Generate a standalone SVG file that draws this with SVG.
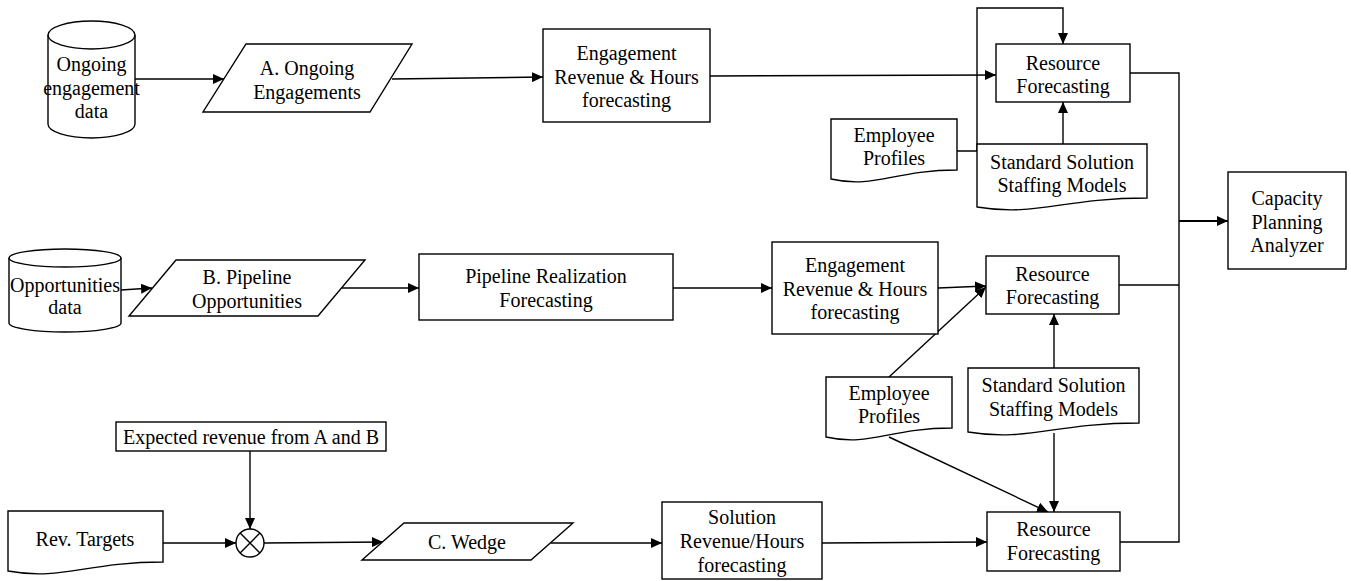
<svg xmlns="http://www.w3.org/2000/svg" width="1351" height="581" viewBox="0 0 1351 581">
<style>
.s{fill:#fff;stroke:#000;stroke-width:1.4}
.t{font-family:"Liberation Serif","Times New Roman",serif;font-size:20px;fill:#000;text-anchor:middle}
.c{fill:none;stroke:#000;stroke-width:1.4}
.a{marker-end:url(#ah)}
</style>
<defs>
<marker id="ah" markerUnits="userSpaceOnUse" markerWidth="11" markerHeight="10" refX="11" refY="5" orient="auto"><path d="M0,0 L11,5 L0,10 Z" fill="#000"/></marker>
</defs>
<rect width="1351" height="581" fill="#fff"/>
<g id="connectors">
<path class="c a" d="M135,79 L224,79"/>
<path class="c a" d="M392,79 L543,77"/>
<path class="c a" d="M710,76 L996,75"/>
<path class="c a" d="M957,151 H977 V8 H1063 V44"/>
<path class="c a" d="M1063,144 V102"/>
<path class="c" d="M1130,73 H1179 V542 H1120"/>
<path class="c" d="M1119,285 H1179"/>
<path class="c a" d="M1179,221 H1228" style="stroke-width:2"/>
<path class="c a" d="M121,290 L152,288"/>
<path class="c a" d="M342,288 L419,288"/>
<path class="c a" d="M673,288 L772,288"/>
<path class="c a" d="M938,288 L986,286"/>
<path class="c a" d="M889,377 L986,287"/>
<path class="c a" d="M1054,368 V314"/>
<path class="c a" d="M1054,433 V512"/>
<path class="c a" d="M889,437 L1048,512"/>
<path class="c a" d="M250,451 V529"/>
<path class="c a" d="M163,543 H236"/>
<path class="c a" d="M264,543 L383,542"/>
<path class="c a" d="M551,543 H662"/>
<path class="c a" d="M822,543 L987,542"/>
</g>
<g id="ongoing-data">
<path class="s" d="M48,35 A43.5,14 0 0,1 135,35 V124 A43.5,14 0 0,1 48,124 Z"/>
<path class="c" d="M48,35 A43.5,14 0 0,0 135,35"/>
<text class="t" x="91.5" y="71">Ongoing</text>
<text class="t" x="91.5" y="94.5">engagement</text>
<text class="t" x="91.5" y="118">data</text>
</g>
<g id="ongoing-engagements">
<path class="s" d="M246,44 H412 L370,112 H203 Z"/>
<text class="t" x="307" y="75">A. Ongoing</text>
<text class="t" x="307" y="98.5">Engagements</text>
</g>
<g id="eng-forecast-1">
<rect class="s" x="543" y="29" width="167" height="93"/>
<text class="t" x="626.5" y="60">Engagement</text>
<text class="t" x="626.5" y="83.5">Revenue &amp; Hours</text>
<text class="t" x="626.5" y="107">forecasting</text>
</g>
<g id="resource-1">
<rect class="s" x="996" y="44" width="134" height="58"/>
<text class="t" x="1063" y="70">Resource</text>
<text class="t" x="1063" y="93">Forecasting</text>
</g>
<g id="employee-1">
<path class="s" d="M831,119 H957 V170 C894,170 875.1,189 831,179 Z"/>
<text class="t" x="894" y="142">Employee</text>
<text class="t" x="894" y="165">Profiles</text>
</g>
<g id="staffing-1">
<path class="s" d="M977,144 H1147 V198 C1062,198 1036.5,217 977,207 Z"/>
<text class="t" x="1062" y="169">Standard Solution</text>
<text class="t" x="1062" y="192">Staffing Models</text>
</g>
<g id="capacity">
<rect class="s" x="1228" y="172" width="118" height="97"/>
<text class="t" x="1287" y="205">Capacity</text>
<text class="t" x="1287" y="228.5">Planning</text>
<text class="t" x="1287" y="252">Analyzer</text>
</g>
<g id="opportunities-data">
<path class="s" d="M9,258 A56,9 0 0,1 121,258 V323 A56,9 0 0,1 9,323 Z"/>
<path class="c" d="M9,258 A56,9 0 0,0 121,258"/>
<text class="t" x="65" y="292">Opportunities</text>
<text class="t" x="65" y="314">data</text>
</g>
<g id="pipeline-opps">
<path class="s" d="M176,260 H365 L318,316 H129 Z"/>
<text class="t" x="247" y="284">B. Pipeline</text>
<text class="t" x="247" y="308">Opportunities</text>
</g>
<g id="pipeline-realization">
<rect class="s" x="419" y="254" width="254" height="66"/>
<text class="t" x="546" y="283">Pipeline Realization</text>
<text class="t" x="546" y="307">Forecasting</text>
</g>
<g id="eng-forecast-2">
<rect class="s" x="772" y="242" width="166" height="92"/>
<text class="t" x="855" y="272">Engagement</text>
<text class="t" x="855" y="295.5">Revenue &amp; Hours</text>
<text class="t" x="855" y="319">forecasting</text>
</g>
<g id="resource-2">
<rect class="s" x="986" y="256" width="133" height="58"/>
<text class="t" x="1052.5" y="281">Resource</text>
<text class="t" x="1052.5" y="304">Forecasting</text>
</g>
<g id="employee-2">
<path class="s" d="M826,377 H952 V428 C889,428 870.1,447 826,437 Z"/>
<text class="t" x="889" y="400">Employee</text>
<text class="t" x="889" y="423">Profiles</text>
</g>
<g id="staffing-2">
<path class="s" d="M968,368 H1139 V423 C1053.5,423 1027.9,442 968,432 Z"/>
<text class="t" x="1053.5" y="392">Standard Solution</text>
<text class="t" x="1053.5" y="416">Staffing Models</text>
</g>
<g id="expected-revenue">
<rect class="s" x="116" y="422" width="270" height="29"/>
<text class="t" x="251" y="444">Expected revenue from A and B</text>
</g>
<g id="rev-targets">
<path class="s" d="M8,511 H163 V562 C85.5,562 62.3,581 8,571 Z"/>
<text class="t" x="85" y="546">Rev. Targets</text>
</g>
<g id="combine">
<circle class="s" cx="250" cy="543" r="14"/>
<path class="c" d="M240.1,533.1 L259.9,552.9 M259.9,533.1 L240.1,552.9"/>
</g>
<g id="wedge">
<path class="s" d="M404,523 H573 L531,560 H362 Z"/>
<text class="t" x="467" y="549">C. Wedge</text>
</g>
<g id="solution-forecast">
<rect class="s" x="662" y="502" width="160" height="77"/>
<text class="t" x="742" y="524">Solution</text>
<text class="t" x="742" y="548">Revenue/Hours</text>
<text class="t" x="742" y="572">forecasting</text>
</g>
<g id="resource-3">
<rect class="s" x="987" y="512" width="133" height="59"/>
<text class="t" x="1053.5" y="536">Resource</text>
<text class="t" x="1053.5" y="560">Forecasting</text>
</g>
</svg>
